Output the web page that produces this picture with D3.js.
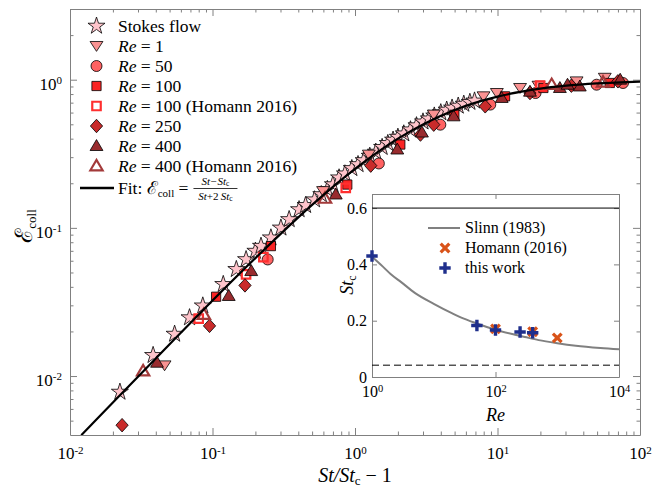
<!DOCTYPE html>
<html><head><meta charset="utf-8">
<script src="https://cdn.jsdelivr.net/npm/d3@7"></script>
<style>
body{margin:0;background:#fff}
svg{display:block}
</style>
</head><body>
<svg id="c" width="653" height="489"></svg>
<script>
// ---------------- data ----------------
const xMajor = [0.01, 0.1, 1, 10, 100];
const yMajor = [0.01, 0.1, 1];

const stokesX = [0.0224,0.0383,0.0542,0.069,0.0855,0.119,0.147,0.172,0.200,0.219,0.257,0.302,0.345,0.405,0.450,0.520,0.580,0.640,0.700,0.773,0.850,0.950,1.05,1.15,1.27,1.40,1.55,1.70,1.85,2.0,2.2,2.45,2.7,3.0,3.3,3.6,4.0,4.4,4.8,5.3,5.8,6.4,6.9];
const stokesY = [0.0078,0.0138,0.0192,0.0248,0.0298,0.0416,0.0525,0.0612,0.0697,0.0753,0.0858,0.100,0.114,0.133,0.142,0.155,0.168,0.182,0.196,0.218,0.232,0.252,0.268,0.285,0.305,0.325,0.350,0.372,0.392,0.41,0.432,0.46,0.49,0.52,0.545,0.57,0.60,0.625,0.645,0.665,0.685,0.705,0.72];

const re1X = [0.0461,0.597,1.25,3.57,7.98,9.9,14.4,19.4,35.9,56.6];
const re1Y = [0.0118,0.177,0.312,0.581,0.772,0.813,0.879,0.91,0.974,1.03];

const re50X = [0.244,1.47,3.97,8.9,18.5,49.6,76];
const re50Y = [0.0612,0.272,0.497,0.679,0.813,0.925,0.95];

const re100X = [0.106,0.257,0.883,2.08,4.98,11.3,21,61.4];
const re100Y = [0.0343,0.0753,0.196,0.365,0.58,0.772,0.879,0.95];

const re100hX = [0.080,0.172,0.2275,0.861,19.9];
const re100hY = [0.0244,0.0485,0.0635,0.186,0.911];

const re250X = [0.0232,0.0953,0.169,1.29,2.88,3.57,8.2,16.9,33,70];
const re250Y = [0.00466,0.0218,0.0409,0.263,0.426,0.497,0.661,0.813,0.911,0.975];

const re400X = [0.0408,0.130,0.187,0.733,1.98,2.95,4.92,10.7,16.9,27.4,31,37.8,72.6];
const re400Y = [0.0123,0.0347,0.0511,0.168,0.338,0.44,0.566,0.753,0.83,0.879,0.925,0.9,1.0];

const re400hX = [0.0326,0.087,0.616,24,55];
const re400hY = [0.0108,0.026,0.158,0.925,0.959];

// fit curve, values
const fitX = [0.012,0.02,0.05,0.1,0.2,0.5,1,2,5,10,20,50,100];
const fitY = [0.00399,0.00662,0.0164,0.0323,0.0625,0.143,0.25,0.40,0.625,0.769,0.870,0.943,0.971];

// inset
const slinnRe = [1,1.5,2,3,5,10,20,30,50,100,200,300,500,1000,2000,5000,10000];
const slinnSt = [0.427,0.392,0.366,0.336,0.298,0.260,0.226,0.208,0.190,0.168,0.151,0.142,0.131,0.120,0.111,0.103,0.0985];
const homannRe = [100,400,1000];
const homannSt = [0.171,0.161,0.139];
const workRe = [1,50,100,250,400];
const workSt = [0.430,0.183,0.167,0.160,0.157];

// ---------------- drawing ----------------
const FONT = "'Liberation Serif'";
const svg = d3.select("#c");
const AX = "#808080";
const L = 70, R = 640, T = 9, B = 435;
const x = d3.scaleLog().domain([0.01,100]).range([L,R]);
const y = d3.scaleLog().domain([0.004,3]).range([B,T]);

const zip = (a,b) => a.map((v,i)=>[v,b[i]]);

function minorOf(dom){
  const out=[]; const e0=Math.floor(Math.log10(dom[0])), e1=Math.ceil(Math.log10(dom[1]));
  for(let e=e0;e<e1;e++) for(let k=2;k<=9;k++){const v=k*Math.pow(10,e); if(v>dom[0]*1.0001&&v<dom[1]*0.9999) out.push(v);}
  return out;
}
function styleAx(g){
  g.attr("font-family",null).attr("font-size",null);
  g.selectAll("path,line").attr("stroke",AX).attr("stroke-width",1);
  return g;
}
function powLabels(g, fs, supfs, baseDy){
  g.selectAll(".tick text").each(function(d){
    const t=d3.select(this); t.text(null).attr("font-size",fs+"px").attr("dy",baseDy);
    t.append("tspan").text("10");
    t.append("tspan").attr("dy","-0.5em").attr("font-size",supfs+"px").text(Math.round(Math.log10(d)));
  });
}

// main axes
const gx = svg.append("g").attr("transform",`translate(0,${B})`)
  .call(d3.axisBottom(x).tickValues(xMajor).tickSize(-7).tickSizeOuter(0).tickPadding(12).tickFormat(()=>""));
styleAx(gx); powLabels(gx,17,11,"0.71em");
styleAx(svg.append("g").attr("transform",`translate(0,${B})`)
  .call(d3.axisBottom(x).tickValues(minorOf([0.01,100])).tickSize(-3.5).tickSizeOuter(0).tickFormat(""))).select(".domain").remove();
styleAx(svg.append("g").attr("transform",`translate(0,${T})`)
  .call(d3.axisTop(x).tickValues(xMajor).tickSize(-7).tickSizeOuter(0).tickFormat(""))).selectAll("text").remove();
styleAx(svg.append("g").attr("transform",`translate(0,${T})`)
  .call(d3.axisTop(x).tickValues(minorOf([0.01,100])).tickSize(-3.5).tickSizeOuter(0).tickFormat(""))).select(".domain").remove();

const gy = svg.append("g").attr("transform",`translate(${L},0)`)
  .call(d3.axisLeft(y).tickValues(yMajor).tickSize(-7).tickSizeOuter(0).tickPadding(8).tickFormat(()=>""));
styleAx(gy); powLabels(gy,17,11,"0.55em");
styleAx(svg.append("g").attr("transform",`translate(${L},0)`)
  .call(d3.axisLeft(y).tickValues(minorOf([0.004,3])).tickSize(-3.5).tickSizeOuter(0).tickFormat(""))).select(".domain").remove();
styleAx(svg.append("g").attr("transform",`translate(${R},0)`)
  .call(d3.axisRight(y).tickValues(yMajor).tickSize(-7).tickSizeOuter(0).tickFormat(""))).selectAll("text").remove();
styleAx(svg.append("g").attr("transform",`translate(${R},0)`)
  .call(d3.axisRight(y).tickValues(minorOf([0.004,3])).tickSize(-3.5).tickSizeOuter(0).tickFormat(""))).select(".domain").remove();

// axis labels
const xl = svg.append("text").attr("x",(L+R)/2).attr("y",482).attr("text-anchor","middle").attr("font-size","20px");
xl.append("tspan").attr("font-style","italic").text("St/St");
xl.append("tspan").attr("font-size","13px").attr("dy","3").text("c");
xl.append("tspan").attr("dy","-3").text(" \u2212 1");
const yl = svg.append("text").attr("transform","translate(32,226) rotate(-90)").attr("text-anchor","middle").attr("font-size","21px");
yl.append("tspan").attr("font-size","24px").text("\u2130");
yl.append("tspan").attr("font-size","13px").attr("dy","4").text("coll");

// marker types
const starT = d3.symbolStar;
const triDown = {draw(c,s){const h=Math.sqrt(s); c.moveTo(-h*0.6,-h*0.42); c.lineTo(h*0.6,-h*0.42); c.lineTo(0,h*0.5); c.closePath();}};
const triUp = {draw(c,s){const h=Math.sqrt(s); c.moveTo(-h*0.6,h*0.42); c.lineTo(h*0.6,h*0.42); c.lineTo(0,-h*0.6); c.closePath();}};
const diamT = {draw(c,s){const h=Math.sqrt(s)/2; c.moveTo(0,-h*1.1); c.lineTo(h,0); c.lineTo(0,h*1.1); c.lineTo(-h,0); c.closePath();}};
const plusT = {draw(c,s){const r=Math.sqrt(s)/2; c.moveTo(-r,0); c.lineTo(r,0); c.moveTo(0,-r); c.lineTo(0,r);}};
const xT = {draw(c,s){const r=Math.sqrt(s)/2; c.moveTo(-r,-r); c.lineTo(r,r); c.moveTo(-r,r); c.lineTo(r,-r);}};

const series = [
  {name:"Stokes flow", re:null, X:stokesX, Y:stokesY, type:starT, size:90, fill:"#ffc4cb", stroke:"#000", sw:0.8},
  {name:"1", re:true, X:re1X, Y:re1Y, type:triDown, size:115, fill:"#fa9292", stroke:"#000", sw:0.8},
  {name:"50", re:true, X:re50X, Y:re50Y, type:d3.symbolCircle, size:95, fill:"#ff6262", stroke:"#000", sw:0.8},
  {name:"100", re:true, X:re100X, Y:re100Y, type:d3.symbolSquare, size:85, fill:"#fa2424", stroke:"#000", sw:0.8},
  {name:"100 (Homann 2016)", re:true, X:re100hX, Y:re100hY, type:d3.symbolSquare, size:72, fill:"none", stroke:"#ff2f2f", sw:2.2},
  {name:"250", re:true, X:re250X, Y:re250Y, type:diamT, size:150, fill:"#c92b2b", stroke:"#000", sw:0.8},
  {name:"400", re:true, X:re400X, Y:re400Y, type:triUp, size:115, fill:"#992b2e", stroke:"#000", sw:0.8},
  {name:"400 (Homann 2016)", re:true, X:re400hX, Y:re400hY, type:triUp, size:105, fill:"none", stroke:"#a33a3a", sw:2.2}
];

svg.append("clipPath").attr("id","mclip").append("rect").attr("x",L).attr("y",T).attr("width",R-L).attr("height",B-T);
const plot = svg.append("g").attr("clip-path","url(#mclip)");
series.forEach(s=>{
  plot.append("g").selectAll("path").data(zip(s.X,s.Y)).join("path")
    .attr("transform",d=>`translate(${x(d[0])},${y(d[1])})`)
    .attr("d",d3.symbol().type(s.type).size(s.size))
    .attr("fill",s.fill).attr("stroke",s.stroke).attr("stroke-width",s.sw).attr("stroke-linejoin","miter");
});
plot.append("path").datum(zip(fitX,fitY))
  .attr("d",d3.line().x(d=>x(d[0])).y(d=>y(d[1])).curve(d3.curveMonotoneX))
  .attr("fill","none").attr("stroke","#000").attr("stroke-width",2.2);

// legend
const LFS = "17.5px";
const lg = svg.append("g");
series.forEach((s,i)=>{
  const cy = 26 + i*20;
  lg.append("path").attr("transform",`translate(96.5,${cy})`).attr("d",d3.symbol().type(s.type).size(s.size))
    .attr("fill",s.fill).attr("stroke",s.stroke).attr("stroke-width",s.sw);
  const t = lg.append("text").attr("x",118).attr("y",cy+5.5).attr("font-size",LFS).style("font-family",FONT);
  if(s.re){ t.append("tspan").attr("font-style","italic").text("Re"); t.append("tspan").text(" = "+s.name); }
  else t.text(s.name);
});
{
  const cy = 188;
  lg.append("line").attr("x1",80).attr("x2",114).attr("y1",cy).attr("y2",cy).attr("stroke","#000").attr("stroke-width",2.5);
  const t = lg.append("text").attr("x",118).attr("y",cy+5.5).attr("font-size",LFS).style("font-family",FONT);
  t.append("tspan").text("Fit: ");
  t.append("tspan").attr("font-size","18px").text("\u2130");
  t.append("tspan").attr("font-size","11px").attr("dy","3").text("coll");
  t.append("tspan").attr("dy","-3").text(" =");
  const x0 = 118 + t.node().getComputedTextLength() + 5;
  const fw = 44, fc = x0 + fw/2;
  lg.append("line").attr("x1",x0).attr("x2",x0+fw).attr("y1",cy+0.5).attr("y2",cy+0.5).attr("stroke","#000").attr("stroke-width",0.8);
  const n = lg.append("text").attr("x",fc).attr("y",cy-3.5).attr("text-anchor","middle").attr("font-size","11px");
  n.append("tspan").attr("font-style","italic").text("St\u2212St"); n.append("tspan").attr("font-size","7.5px").attr("dy","1.5").text("c");
  const dn = lg.append("text").attr("x",fc).attr("y",cy+11.5).attr("text-anchor","middle").attr("font-size","11px");
  dn.append("tspan").attr("font-style","italic").text("St");
  dn.append("tspan").text("+2\u2009");
  dn.append("tspan").attr("font-style","italic").text("St"); dn.append("tspan").attr("font-size","7.5px").attr("dy","1.5").text("c");
}

// ---------------- inset ----------------
const iL = 372, iR = 619, iT = 194, iB = 377;
const xi = d3.scaleLog().domain([1,1e4]).range([iL,iR]);
const yi = d3.scaleLinear().domain([0,0.65]).range([iB,iT]);
svg.append("rect").attr("x",iL).attr("y",iT).attr("width",iR-iL).attr("height",iB-iT).attr("fill","#fff");

const ix = svg.append("g").attr("transform",`translate(0,${iB})`)
  .call(d3.axisBottom(xi).tickValues([1,100,10000]).tickSize(-5).tickSizeOuter(0).tickPadding(9).tickFormat(()=>""));
styleAx(ix); powLabels(ix,16,10.5,"0.71em");
styleAx(svg.append("g").attr("transform",`translate(0,${iT})`)
  .call(d3.axisTop(xi).tickValues([1,100,10000]).tickSize(-5).tickSizeOuter(0).tickFormat(""))).selectAll("text").remove();
const iy = svg.append("g").attr("transform",`translate(${iL},0)`)
  .call(d3.axisLeft(yi).tickValues([0,0.2,0.4,0.6]).tickSize(-5).tickSizeOuter(0).tickPadding(5).tickFormat(d=>d===0?"0":d.toFixed(1)));
styleAx(iy); iy.selectAll("text").attr("font-size","16px");
styleAx(svg.append("g").attr("transform",`translate(${iR},0)`)
  .call(d3.axisRight(yi).tickValues([0,0.2,0.4,0.6]).tickSize(-5).tickSizeOuter(0).tickFormat(""))).selectAll("text").remove();

svg.append("line").attr("x1",iL).attr("x2",iR).attr("y1",yi(0.6)).attr("y2",yi(0.6)).attr("stroke","#000").attr("stroke-width",1);
svg.append("line").attr("x1",iL).attr("x2",iR).attr("y1",yi(0.042)).attr("y2",yi(0.042)).attr("stroke","#000").attr("stroke-width",1).attr("stroke-dasharray","7,4");

svg.append("path").datum(zip(slinnRe,slinnSt))
  .attr("d",d3.line().x(d=>xi(d[0])).y(d=>yi(d[1])).curve(d3.curveMonotoneX))
  .attr("fill","none").attr("stroke","#808080").attr("stroke-width",2);

const ORANGE="#d95319", BLUE="#1f2f8c";
svg.append("g").selectAll("path").data(zip(homannRe,homannSt)).join("path")
  .attr("transform",d=>`translate(${xi(d[0])},${yi(d[1])})`).attr("d",d3.symbol().type(xT).size(75))
  .attr("fill","none").attr("stroke",ORANGE).attr("stroke-width",3.2);
svg.append("g").selectAll("path").data(zip(workRe,workSt)).join("path")
  .attr("transform",d=>`translate(${xi(d[0])},${yi(d[1])})`).attr("d",d3.symbol().type(plusT).size(130))
  .attr("fill","none").attr("stroke",BLUE).attr("stroke-width",3.4);

// inset legend
const IFS = "16px";
svg.append("line").attr("x1",428).attr("x2",460).attr("y1",228).attr("y2",228).attr("stroke","#808080").attr("stroke-width",2);
svg.append("text").attr("x",465).attr("y",233).attr("font-size",IFS).text("Slinn (1983)");
svg.append("path").attr("transform","translate(445,248)").attr("d",d3.symbol().type(xT).size(75)).attr("fill","none").attr("stroke",ORANGE).attr("stroke-width",3.2);
svg.append("text").attr("x",465).attr("y",253).attr("font-size",IFS).text("Homann (2016)");
svg.append("path").attr("transform","translate(445,268)").attr("d",d3.symbol().type(plusT).size(130)).attr("fill","none").attr("stroke",BLUE).attr("stroke-width",3.4);
svg.append("text").attr("x",465).attr("y",273).attr("font-size",IFS).text("this work");

// inset labels
svg.append("text").attr("x",(iL+iR)/2).attr("y",421).attr("text-anchor","middle").attr("font-size","18px").attr("font-style","italic").text("Re");
const il = svg.append("text").attr("transform","translate(353,285) rotate(-90)").attr("text-anchor","middle").attr("font-size","18px");
il.append("tspan").attr("font-style","italic").text("St");
il.append("tspan").attr("font-size","12px").attr("dy","3").text("c");

// enforce the serif font on every text
svg.selectAll("text").style("font-family",FONT).attr("fill","#000");
</script>
</body></html>
